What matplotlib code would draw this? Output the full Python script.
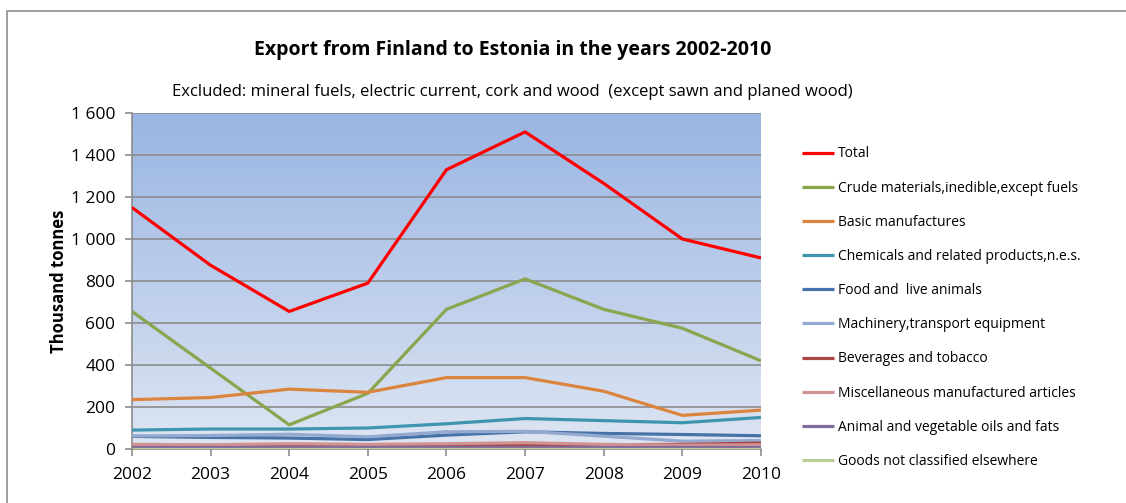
import numpy as np
import matplotlib.pyplot as plt
from matplotlib.patches import Rectangle
from matplotlib.ticker import FuncFormatter

years = [2002, 2003, 2004, 2005, 2006, 2007, 2008, 2009, 2010]

total = [1150, 875, 655, 790, 1330, 1510, 1265, 1000, 910]
crude = [655, 385, 115, 265, 665, 810, 665, 575, 420]
basic = [235, 245, 285, 270, 340, 340, 275, 160, 185]
chemicals = [90, 95, 95, 100, 120, 145, 135, 125, 150]
food = [60, 55, 52, 45, 66, 82, 74, 69, 63]
machinery = [62, 64, 70, 58, 82, 84, 61, 37, 40]
beverages = [15, 15, 18, 15, 18, 22, 20, 22, 28]
misc = [22, 20, 25, 22, 25, 30, 22, 18, 20]
oils = [8, 8, 8, 8, 8, 8, 8, 8, 8]
goods = [2, 2, 2, 2, 2, 2, 2, 2, 2]

series = [
    ("Total", total, "#ff0000"),
    ("Crude materials,inedible,except fuels", crude, "#89a54e"),
    ("Basic manufactures", basic, "#db843d"),
    ("Chemicals and related products,n.e.s.", chemicals, "#3d96ae"),
    ("Food and  live animals", food, "#4572a7"),
    ("Machinery,transport equipment", machinery, "#93a9cf"),
    ("Beverages and tobacco", beverages, "#aa4643"),
    ("Miscellaneous manufactured articles", misc, "#d19392"),
    ("Animal and vegetable oils and fats", oils, "#80699b"),
    ("Goods not classified elsewhere", goods, "#b9cd96"),
]

plt.rcParams["font.family"] = ["Open Sans", "DejaVu Sans"]

fig = plt.figure(figsize=(11.26, 5.03), dpi=100)
ax = fig.add_axes([0.1172, 0.1074, 0.5586, 0.6679])

# outer chart frame
fig.patches.append(Rectangle((7 / 1126, -0.1), 1.2, 1.1 - 11 / 503, transform=fig.transFigure,
                             fill=False, edgecolor="#8c8c8c", linewidth=1.2))

# gradient plot background
grad = np.linspace(0, 1, 256).reshape(-1, 1)
top = np.array([0.60, 0.71, 0.89])
bottom = np.array([0.87, 0.90, 0.95])
img = bottom + (top - bottom) * grad
ax.imshow(img.reshape(256, 1, 3), extent=[2002, 2010, 0, 1600], origin="lower",
          aspect="auto", zorder=0)

for name, vals, col in series:
    ax.plot(years, vals, color=col, linewidth=2.3, label=name, zorder=3,
            solid_capstyle="butt")

ax.set_xlim(2002, 2010)
ax.set_ylim(0, 1600)
ax.set_xticks(years)
ax.set_yticks(range(0, 1601, 200))
ax.yaxis.set_major_formatter(FuncFormatter(lambda v, p: f"{int(v):,}".replace(",", " ")))
ax.grid(axis="y", color="#8c8c8c", linewidth=1.2, zorder=1)
for s in ["top", "right"]:
    ax.spines[s].set_visible(False)
for s in ["left", "bottom"]:
    ax.spines[s].set_color("#8c8c8c")
    ax.spines[s].set_linewidth(1.2)
ax.tick_params(axis="both", colors="#8c8c8c", labelcolor="black", labelsize=12.5,
               length=5, width=1.2)
ax.tick_params(axis="y", pad=7)
ax.tick_params(axis="x", pad=8)
ax.set_ylabel("Thousand tonnes", fontsize=12, fontweight="bold", labelpad=2)

fig.text(0.455, 0.900, "Export from Finland to Estonia in the years 2002-2010",
         ha="center", va="center", fontsize=14, fontweight="bold")
fig.text(0.455, 0.818, "Excluded: mineral fuels, electric current, cork and wood  (except sawn and planed wood)",
         ha="center", va="center", fontsize=12)

ax.legend(loc="upper left", bbox_to_anchor=(0.707, 0.720), bbox_transform=fig.transFigure,
          frameon=False, fontsize=10, handlelength=2.3, handletextpad=0.3,
          labelspacing=1.38, borderaxespad=0)

fig.savefig("out.png", dpi=100)
